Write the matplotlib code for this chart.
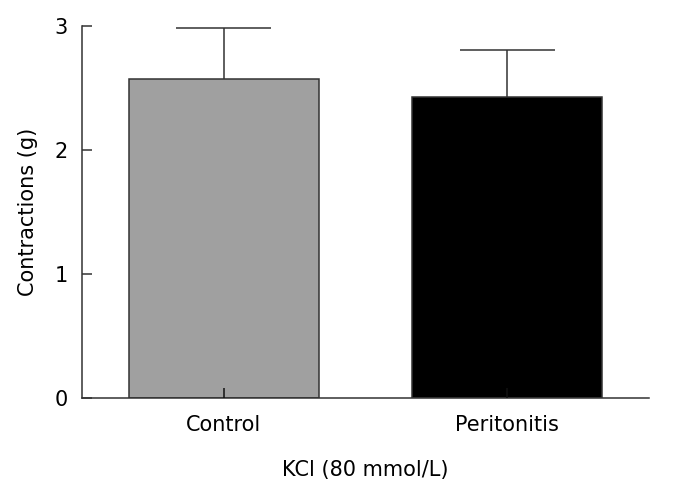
import numpy as np
import matplotlib.pyplot as plt

plt.rcParams['font.family'] = ['DejaVu Sans']

groups = ["Control", "Peritonitis"]
means = [2.57, 2.43]
sems = [0.41, 0.38]
colors = ["#a0a0a0", "#000000"]

fig = plt.figure(figsize=(6.76, 5.0), dpi=100)
ax = fig.add_axes([0.1213, 0.204, 0.8387, 0.744])

x = np.arange(len(groups))
top = np.array(means) + np.array(sems)
ax.bar(x, means, width=0.67, color=colors, edgecolor='#333333', linewidth=1.1, zorder=1)
# upper error bars only
ax.vlines(x, means, top, color='#333333', linewidth=1.1, zorder=3)
ax.hlines(top, x - 0.167, x + 0.167, color='#333333', linewidth=1.1, zorder=3)
ax.set_axisbelow(False)

ax.set_xlim(-0.5, 1.5)
ax.set_ylim(0, 3)
ax.set_yticks([0, 1, 2, 3])
ax.set_xticks(x)
ax.set_xticklabels(groups)

for side in ['top', 'right']:
    ax.spines[side].set_visible(False)
for side in ['left', 'bottom']:
    ax.spines[side].set_linewidth(1.1)
    ax.spines[side].set_color('#333333')

ax.tick_params(axis='both', direction='in', length=7, width=1.1, color='#333333',
               labelsize=15)
ax.tick_params(axis='y', pad=10)
ax.tick_params(axis='x', pad=12, color='#111111')

ax.set_ylabel('Contractions (g)', fontsize=15, labelpad=12)
ax.set_xlabel('KCl (80 mmol/L)', fontsize=15, labelpad=18)

plt.savefig('out.png', dpi=100, facecolor='white')
